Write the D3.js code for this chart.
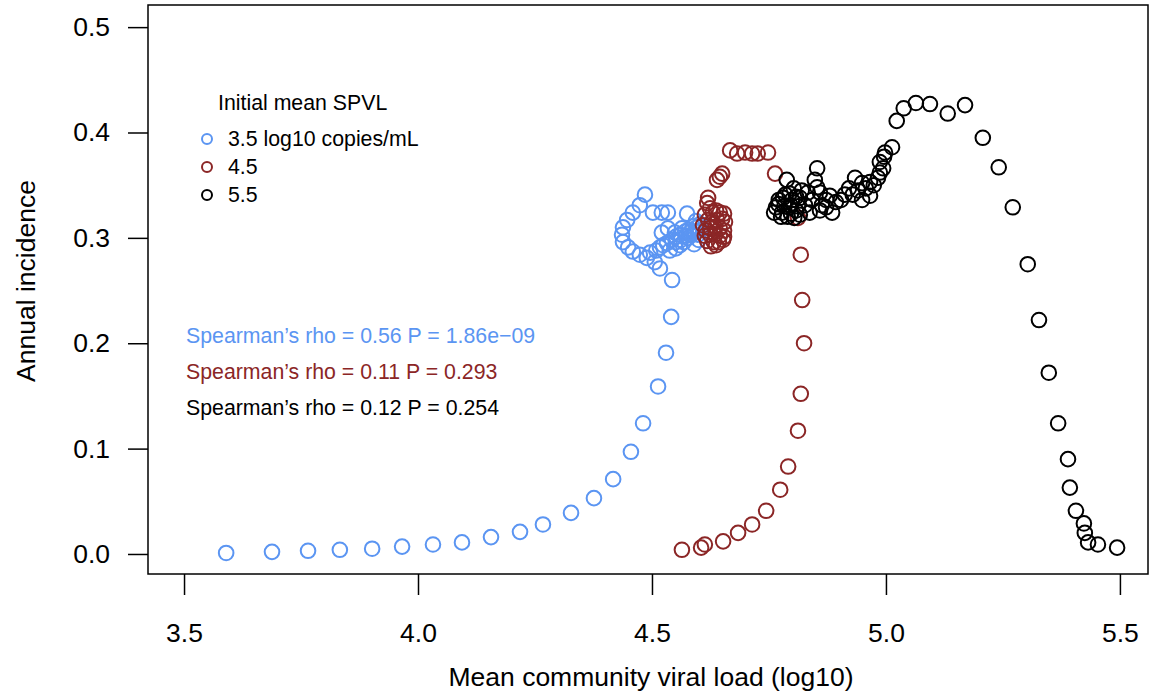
<!DOCTYPE html>
<html>
<head>
<meta charset="utf-8">
<script src="https://cdn.jsdelivr.net/npm/d3@7"></script>
<style>
  body { margin: 0; background: #fff; }
  text { font-family: "Liberation Sans", Arial, Helvetica, sans-serif; }
</style>
</head>
<body>
<svg id="chart" width="1155" height="691"></svg>
<script>
// Initial mean SPVL 3.5 (blue)
const blueX = [3.590, 3.688, 3.765, 3.833, 3.902, 3.966, 4.032, 4.094, 4.156, 4.218, 4.267, 4.327, 4.376, 4.417, 4.455, 4.481, 4.513, 4.530, 4.541, 4.543, 4.517,
  4.506, 4.489, 4.474, 4.459, 4.449, 4.438, 4.436, 4.438, 4.447, 4.459, 4.474, 4.485, 4.502, 4.521, 4.534, 4.575,
  4.521, 4.534, 4.524, 4.538, 4.551, 4.560, 4.568, 4.577, 4.585, 4.592, 4.596, 4.587, 4.579, 4.571, 4.560, 4.551, 4.543, 4.532, 4.517, 4.509, 4.496,
  4.598, 4.600, 4.590, 4.573, 4.562, 4.551, 4.581, 4.564, 4.549, 4.603, 4.603, 4.594];
const blueY = [0.001, 0.002, 0.003, 0.004, 0.005, 0.007, 0.009, 0.011, 0.016, 0.021, 0.028, 0.039, 0.053, 0.071, 0.097, 0.124, 0.159, 0.191, 0.225, 0.260, 0.271,
  0.277, 0.281, 0.284, 0.287, 0.291, 0.296, 0.303, 0.310, 0.317, 0.324, 0.331, 0.341, 0.324, 0.324, 0.324, 0.323,
  0.305, 0.309, 0.293, 0.288, 0.290, 0.293, 0.296, 0.300, 0.303, 0.306, 0.310, 0.311, 0.308, 0.306, 0.303, 0.301, 0.298, 0.295, 0.291, 0.288, 0.286,
  0.303, 0.298, 0.294, 0.302, 0.298, 0.296, 0.305, 0.309, 0.305, 0.307, 0.313, 0.316];

// Initial mean SPVL 4.5 (red)
const redX = [4.564, 4.605, 4.613, 4.652, 4.684, 4.714, 4.744, 4.774, 4.791, 4.812, 4.818, 4.825, 4.821, 4.818, 4.812, 4.763,
  4.748, 4.726, 4.714, 4.699, 4.682, 4.667, 4.650, 4.645, 4.639, 4.620, 4.618,
  4.624, 4.630, 4.637, 4.645, 4.654, 4.613, 4.620, 4.628, 4.639, 4.650, 4.656, 4.609, 4.615, 4.624, 4.635, 4.645, 4.654,
  4.613, 4.624, 4.635, 4.645, 4.654, 4.618, 4.632, 4.643, 4.652, 4.626, 4.637];
const redY = [0.004, 0.006, 0.009, 0.012, 0.020, 0.028, 0.041, 0.061, 0.083, 0.117, 0.152, 0.200, 0.241, 0.284, 0.319, 0.361,
  0.381, 0.380, 0.380, 0.381, 0.380, 0.383, 0.361, 0.358, 0.355, 0.338, 0.333,
  0.328, 0.324, 0.326, 0.324, 0.323, 0.322, 0.317, 0.315, 0.317, 0.318, 0.315, 0.312, 0.307, 0.309, 0.310, 0.309, 0.307,
  0.302, 0.303, 0.303, 0.302, 0.301, 0.297, 0.296, 0.296, 0.298, 0.292, 0.293];

// Initial mean SPVL 5.5 (black)
const blackX = [5.494, 5.453, 5.432, 5.425, 5.423, 5.406, 5.393, 5.389, 5.368, 5.348, 5.327, 5.303, 5.271, 5.241, 5.207, 5.169,
  5.132, 5.094, 5.064, 5.038, 5.023, 5.013, 4.998, 4.994, 4.987,
  4.983, 4.974, 4.966, 4.957, 4.949, 4.940, 4.929, 4.921, 4.912, 4.904, 4.893, 4.885, 4.880, 4.872, 4.863, 4.859, 4.853, 4.853,
  4.848, 4.842, 4.833, 4.827, 4.816, 4.808, 4.799, 4.793, 4.785, 4.778, 4.771, 4.765, 4.761, 4.788, 4.803, 4.820, 4.797, 4.816,
  4.837, 4.859, 4.872, 4.949, 4.966, 4.934, 4.987, 4.996,
  4.770, 4.776, 4.783, 4.790, 4.796, 4.804, 4.812, 4.780, 4.794, 4.808];
const blackY = [0.006, 0.009, 0.011, 0.020, 0.029, 0.041, 0.063, 0.090, 0.124, 0.172, 0.222, 0.275, 0.329, 0.367, 0.395, 0.426,
  0.418, 0.427, 0.428, 0.423, 0.411, 0.386, 0.381, 0.366, 0.362,
  0.357, 0.350, 0.353, 0.347, 0.352, 0.345, 0.341, 0.347, 0.341, 0.336, 0.334, 0.324, 0.340, 0.336, 0.331, 0.343, 0.348, 0.366,
  0.355, 0.336, 0.343, 0.331, 0.338, 0.326, 0.336, 0.329, 0.341, 0.324, 0.336, 0.329, 0.324, 0.355, 0.347, 0.345, 0.323, 0.322,
  0.324, 0.326, 0.329, 0.336, 0.340, 0.357, 0.372, 0.377,
  0.332, 0.320, 0.330, 0.320, 0.331, 0.319, 0.330, 0.338, 0.342, 0.339];

const xTicks = [3.5, 4.0, 4.5, 5.0, 5.5];
const yTicks = [0.0, 0.1, 0.2, 0.3, 0.4, 0.5];
const legendLabels = ["3.5 log10 copies/mL", "4.5", "5.5"];
const statLabels = ["Spearman\u2019s rho = 0.56 P = 1.86e\u221209",
                    "Spearman\u2019s rho = 0.11 P = 0.293",
                    "Spearman\u2019s rho = 0.12 P = 0.254"];
const colors = ["#5b95f2", "#8b2626", "#000000"];

(function() {
  const svg = d3.select("#chart");
  const mLeft = 148, mRight = 1148, mTop = 5, mBottom = 574;
  const axisFont = 26.5, smallFont = 21.3;

  const x = d3.scaleLinear().domain([3.423, 5.560]).range([mLeft, mRight]);
  const y = d3.scaleLinear().domain([-0.019, 0.521]).range([mBottom, mTop]);

  // points
  const series = [[blueX, blueY], [redX, redY], [blackX, blackY]];
  series.forEach(function(s, i) {
    const pts = s[0].map((v, j) => [v, s[1][j]]);
    svg.append("g").selectAll("circle")
      .data(pts)
      .enter()
      .append("circle")
      .attr("cx", d => x(d[0]))
      .attr("cy", d => y(d[1]))
      .attr("r", 7.3)
      .attr("fill", "none")
      .attr("stroke", colors[i])
      .attr("stroke-width", 2);
  });

  // frame
  svg.append("rect")
    .attr("x", mLeft).attr("y", mTop)
    .attr("width", mRight - mLeft).attr("height", mBottom - mTop)
    .attr("fill", "none").attr("stroke", "#000").attr("stroke-width", 1.5);

  // x axis
  const xAxis = d3.axisBottom(x).tickValues(xTicks).tickFormat(d3.format(".1f"))
    .tickSize(21).tickPadding(28);
  const gx = svg.append("g").attr("transform", `translate(0,${mBottom})`).call(xAxis);
  gx.select(".domain").remove();
  gx.selectAll("line").attr("stroke-width", 1.5);
  gx.selectAll("text").attr("font-size", axisFont).attr("font-family", "Liberation Sans, Arial, sans-serif");

  // y axis
  const yAxis = d3.axisLeft(y).tickValues(yTicks).tickFormat(d3.format(".1f"))
    .tickSize(20).tickPadding(18);
  const gy = svg.append("g").attr("transform", `translate(${mLeft},0)`).call(yAxis);
  gy.select(".domain").remove();
  gy.selectAll("line").attr("stroke-width", 1.5);
  gy.selectAll("text").attr("font-size", axisFont).attr("font-family", "Liberation Sans, Arial, sans-serif");

  // axis titles
  svg.append("text")
    .attr("x", 651).attr("y", 686)
    .attr("text-anchor", "middle").attr("font-size", axisFont)
    .text("Mean community viral load (log10)");
  svg.append("text")
    .attr("transform", "translate(35,281) rotate(-90)")
    .attr("text-anchor", "middle").attr("font-size", axisFont)
    .text("Annual incidence");

  // legend
  svg.append("text").attr("x", 218).attr("y", 110).attr("font-size", smallFont).text("Initial mean SPVL");
  legendLabels.forEach(function(lab, i) {
    const cy = 139 + i * 28;
    svg.append("circle").attr("cx", 207).attr("cy", cy).attr("r", 5)
      .attr("fill", "none").attr("stroke", colors[i]).attr("stroke-width", 2);
    svg.append("text").attr("x", 228).attr("y", cy + 7).attr("font-size", smallFont).text(lab);
  });

  // correlation annotations
  statLabels.forEach(function(lab, i) {
    svg.append("text").attr("x", 186).attr("y", 343 + i * 36)
      .attr("font-size", smallFont).attr("fill", colors[i]).text(lab);
  });
})();
</script>
</body>
</html>
